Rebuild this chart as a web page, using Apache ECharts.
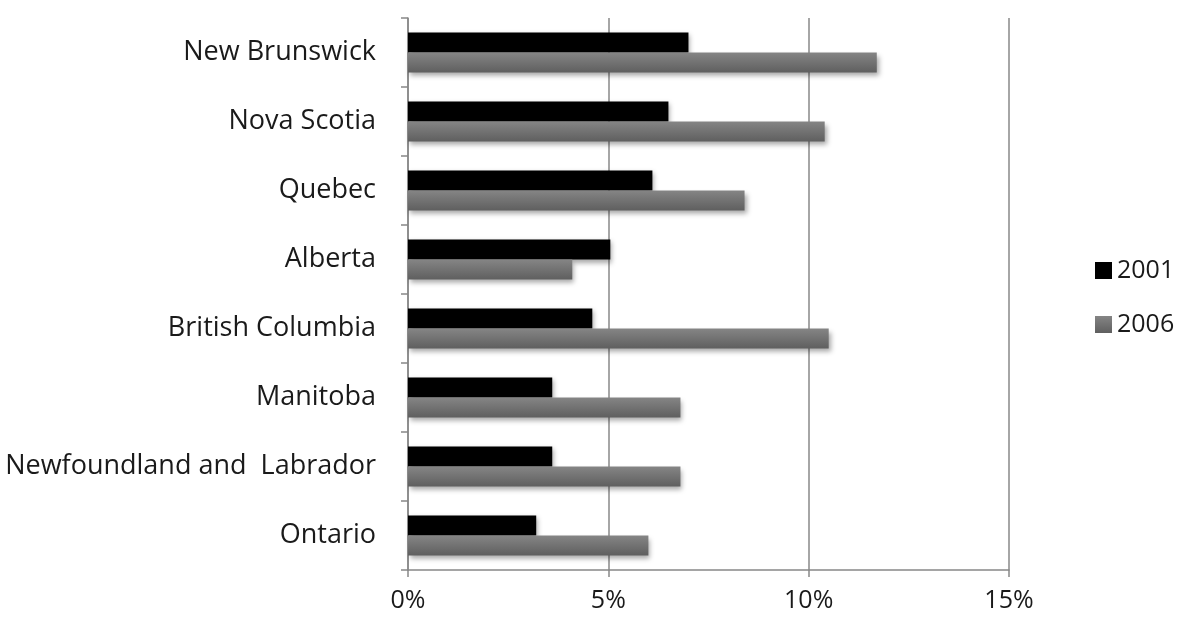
<!DOCTYPE html>
<html><head><meta charset="utf-8">
<script src="https://cdn.jsdelivr.net/npm/echarts@6/dist/echarts.min.js"></script>
<style>html,body{margin:0;padding:0;background:#fff}#c{width:1185px;height:634px}</style>
</head><body><div id="c"></div>
<script>
var categories = ["New Brunswick","Nova Scotia","Quebec","Alberta","British Columbia","Manitoba","Newfoundland and  Labrador","Ontario"];
var seriesNames = ["2001","2006"];
var values2001 = [7.0, 6.5, 6.1, 5.05, 4.6, 3.6, 3.6, 3.2];
var values2006 = [11.7, 10.4, 8.4, 4.1, 10.5, 6.8, 6.8, 6.0];
var xTicks = [0, 5, 10, 15];

var fontFam = "Open Sans";
var chart = echarts.init(document.getElementById('c'));
var shadow = {shadowColor:'rgba(0,0,0,0.35)', shadowBlur:5, shadowOffsetX:2, shadowOffsetY:3};
chart.setOption({
  animation:false,
  grid:{left:408, top:18, right:176, bottom:64},
  legend:{
    orient:'vertical', left:1090, top:253, itemWidth:17, itemHeight:17, itemGap:29,
    icon:'rect', data:seriesNames,
    textStyle:{fontFamily:fontFam, fontSize:25, color:'#1a1a1a'}
  },
  xAxis:{
    type:'value', min:xTicks[0], max:xTicks[xTicks.length-1], interval:5,
    axisLine:{show:true, lineStyle:{color:'#888', width:1.5}},
    axisTick:{show:true, length:7, lineStyle:{color:'#888', width:1.5}},
    splitLine:{show:true, lineStyle:{color:'#888', width:1.5}},
    axisLabel:{formatter:'{value}%', margin:18, fontFamily:fontFam, fontSize:25, color:'#1a1a1a'}
  },
  yAxis:{
    type:'category', data:categories, inverse:true,
    axisLine:{show:true, lineStyle:{color:'#888', width:1.5}},
    axisTick:{show:true, length:7, lineStyle:{color:'#888', width:1.5}},
    axisLabel:{margin:32, fontFamily:fontFam, fontSize:27, color:'#1a1a1a'}
  },
  series:[
    {name:seriesNames[0], type:'bar', data:values2001, barGap:'0%', barCategoryGap:'42%',
     itemStyle:Object.assign({color:'#000'}, shadow)},
    {name:seriesNames[1], type:'bar', data:values2006, barGap:'0%', barCategoryGap:'42%',
     itemStyle:Object.assign({color:new echarts.graphic.LinearGradient(0,0,0,1,[{offset:0,color:'#858585'},{offset:1,color:'#5f5f5f'}])}, shadow)}
  ]
});
</script></body></html>
